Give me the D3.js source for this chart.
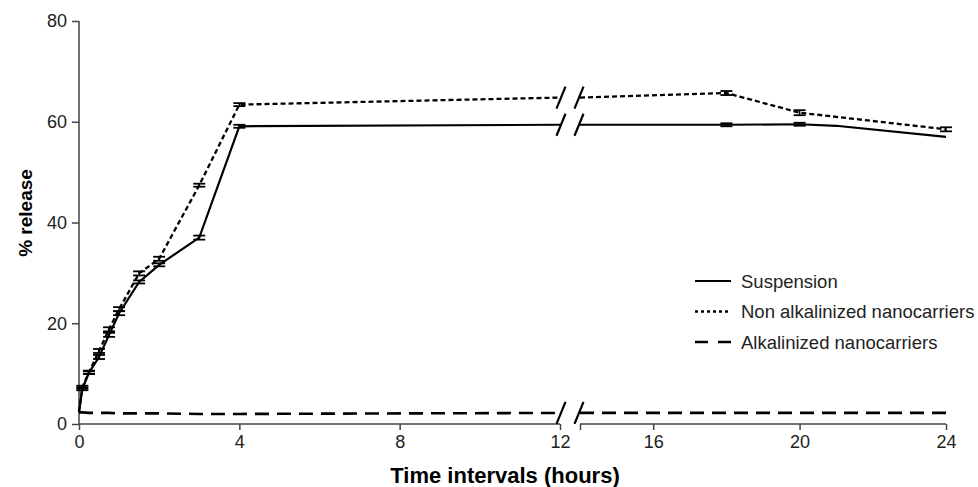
<!DOCTYPE html>
<html><head><meta charset="utf-8">
<script src="https://cdn.jsdelivr.net/npm/d3@7"></script>
<style>body{margin:0;background:#fff}svg{display:block}text{font-family:"Liberation Sans",Arial,sans-serif}</style>
</head><body><svg id="c" width="978" height="487"></svg>
<script>
// ---- data ----
const times = [0, 0.083, 0.25, 0.5, 0.75, 1, 1.5, 2, 3, 4, 12, 18, 20, 24];
const suspensionTimes = [0, 0.083, 0.25, 0.5, 0.75, 1, 1.5, 2, 3, 4, 12, 18, 20, 21, 24];
const suspension = [2.4, 7.0, 10.2, 13.3, 17.7, 22.0, 28.2, 31.6, 37.0, 59.1, 59.4, 59.4, 59.5, 59.2, 57.0];
const suspensionErr = [0, 0.3, 0.3, 0.4, 0.4, 0.4, 0.3, 0.3, 0.4, 0.3, 0, 0.3, 0.3, 0, 0];
const nonAlk = [2.4, 7.3, 10.3, 14.5, 18.8, 22.8, 29.9, 32.8, 47.4, 63.4, 64.8, 65.7, 61.8, 58.5];
const nonAlkErr = [0, 0.3, 0.3, 0.4, 0.4, 0.4, 0.4, 0.4, 0.3, 0.3, 0, 0.4, 0.5, 0.4];
const alk = [2.3, 2.3, 2.2, 2.2, 2.2, 2.1, 2.1, 2.1, 2.0, 2.0, 2.2, 2.2, 2.2, 2.2];
const xTicksLeft = [0, 4, 8, 12];
const xTicksRight = [16, 20, 24];
const yTicks = [0, 20, 40, 60, 80];
const legendLabels = ["Suspension", "Non alkalinized nanocarriers", "Alkalinized nanocarriers"];

// ---- scales ----
const svg = d3.select("#c");
const xL = d3.scaleLinear().domain([0, 12]).range([79, 560]);
const xR = d3.scaleLinear().domain([14, 24]).range([580, 946]);
const y = d3.scaleLinear().domain([0, 80]).range([424, 21]);
const axisColor = "#444";

// axes
const gxL = svg.append("g").attr("transform", `translate(0,${y(0)})`)
  .call(d3.axisBottom(xL).tickValues(xTicksLeft).tickSize(6).tickPadding(5));
const gxR = svg.append("g").attr("transform", `translate(0,${y(0)})`)
  .call(d3.axisBottom(xR).tickValues([14].concat(xTicksRight)).tickFormat(d => d === 14 ? "" : d).tickSize(6).tickPadding(5));
const gy = svg.append("g").attr("transform", `translate(${xL(0)},0)`)
  .call(d3.axisLeft(y).tickValues(yTicks).tickSize(7).tickPadding(5));
[gxL, gxR, gy].forEach(g => {
  g.select(".domain").attr("stroke", axisColor).attr("stroke-width", 1.5);
  g.selectAll(".tick line").attr("stroke", axisColor).attr("stroke-width", 1.5);
  g.selectAll(".tick text").attr("fill", "#222").style("font-size", "18px");
});
gxL.selectAll(".domain").attr("d", `M${xL(0)},0H${xL(12)}`);
gxR.selectAll(".domain").attr("d", `M${xR(14)},0H${xR(24)}`);
gy.selectAll(".domain").attr("d", `M0,${y(80)}V${y(0)}`);

// ---- series ----
function split(ts, vs) {
  const left = [], right = [];
  ts.forEach((t, i) => {
    if (t <= 12) left.push([xL(t), y(vs[i])]);
    if (t === 12) right.push([xR(14), y(vs[i])]);
    if (t > 12) right.push([xR(t), y(vs[i])]);
  });
  return [left, right];
}
const line = d3.line();
const seriesDefs = [
  {ts: suspensionTimes, vs: suspension, err: suspensionErr, dash: null, w: 2.2},
  {ts: times, vs: nonAlk, err: nonAlkErr, dash: "5,3", w: 2.3},
  {ts: times, vs: alk, err: null, dash: "14,8", w: 2.6}
];
seriesDefs.forEach(s => {
  const [left, right] = split(s.ts, s.vs);
  [left, right].forEach(seg => {
    svg.append("path").attr("d", line(seg)).attr("fill", "none")
      .attr("stroke", "#000").attr("stroke-width", s.w)
      .attr("stroke-dasharray", s.dash);
  });
  const v12 = s.vs[s.ts.indexOf(12)];
  [561, 579].forEach(cx => {
    svg.append("line").attr("x1", cx - 4.5).attr("x2", cx + 4.5)
      .attr("y1", y(v12) + 11).attr("y2", y(v12) - 11)
      .attr("stroke", "#000").attr("stroke-width", 2.2);
  });
  if (s.err) {
    s.ts.forEach((t, i) => {
      const e = s.err[i];
      if (!e) return;
      const cx = t <= 12 ? xL(t) : xR(t);
      [s.vs[i] - e, s.vs[i] + e].forEach(v => {
        svg.append("line").attr("x1", cx - 6).attr("x2", cx + 6)
          .attr("y1", y(v)).attr("y2", y(v)).attr("stroke", "#000").attr("stroke-width", 1.8);
      });
      svg.append("line").attr("x1", cx).attr("x2", cx)
        .attr("y1", y(s.vs[i] - e)).attr("y2", y(s.vs[i] + e)).attr("stroke", "#000").attr("stroke-width", 1.5);
    });
  }
});

// ---- legend ----
const lg = svg.append("g");
legendLabels.forEach((lab, i) => {
  const ly = 281 + i * 30.5;
  lg.append("line").attr("x1", 695).attr("x2", 731).attr("y1", ly).attr("y2", ly)
    .attr("stroke", "#000").attr("stroke-width", [2.2, 2.3, 2.6][i])
    .attr("stroke-dasharray", [null, "3,3", "13,10"][i]);
  lg.append("text").attr("x", 741).attr("y", ly + 6.5).text(lab)
    .style("font-size", "18.5px").attr("fill", "#222");
});

// ---- titles ----
svg.append("text").attr("x", 505).attr("y", 483).attr("text-anchor", "middle")
  .style("font-size", "22px").style("font-weight", "bold").text("Time intervals (hours)");
svg.append("text").attr("transform", "translate(32,213) rotate(-90)").attr("text-anchor", "middle")
  .style("font-size", "19px").style("font-weight", "bold").text("% release");
</script></body></html>
